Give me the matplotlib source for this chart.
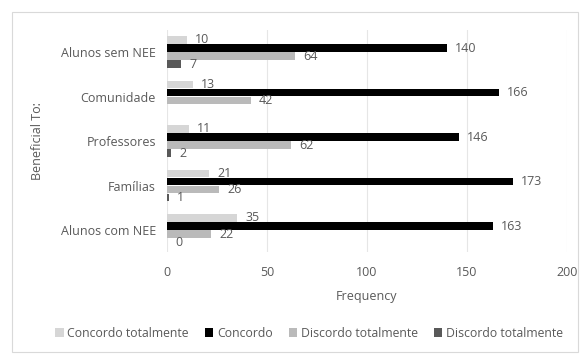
import numpy as np
import matplotlib
matplotlib.use("Agg")
import matplotlib.pyplot as plt
from matplotlib.patches import Rectangle

# dados (de baixo para cima)
categorias = ["Alunos com NEE", "Famílias", "Professores", "Comunidade", "Alunos sem NEE"]
series = ["Concordo totalmente", "Concordo", "Discordo totalmente", "Discordo totalmente"]
concordo_totalmente = [35, 21, 11, 13, 10]
concordo = [163, 173, 146, 166, 140]
discordo_totalmente = [22, 26, 62, 42, 64]
discordo_totalmente_2 = [0, 1, 2, np.nan, 7]
xticks = [0, 50, 100, 150, 200]

valores = [concordo_totalmente, concordo, discordo_totalmente, discordo_totalmente_2]
cores = ["#d6d6d6", "#000000", "#bababa", "#595959"]
texto = "#595959"

plt.rcParams['font.family'] = ['Open Sans', 'DejaVu Sans']

fig = plt.figure(figsize=(5.83, 3.56), dpi=100)
fig.patches.append(Rectangle((12 / 583, 4 / 356), 566 / 583, 340 / 356, transform=fig.transFigure,
                             fill=False, edgecolor="#d9d9d9", linewidth=0.8))
ax = fig.add_axes([0.2865, 0.2914, 0.686, 0.625])

y = np.arange(len(categorias))
passo = 0.18
altura = 0.165
for k, (vals, cor, nome) in enumerate(zip(valores, cores, series)):
    pos = y + (1.5 - k) * passo
    ax.barh(pos, vals, height=altura, color=cor, label=nome, zorder=3)
    for p, v in zip(pos, vals):
        if np.isnan(v):
            continue
        ax.text(v + 4, p, f"{int(v)}", va="center", ha="left", fontsize=9, color=texto, zorder=4)

ax.set_xlim(0, 200)
ax.set_ylim(-0.5, len(categorias) - 0.5)
ax.set_xticks(xticks)
ax.set_yticks(y)
ax.set_yticklabels(categorias)
ax.tick_params(axis="both", length=0, labelsize=9, colors=texto)
ax.tick_params(axis="x", pad=10)
ax.tick_params(axis="y", pad=8)
ax.grid(axis="x", color="#e6e6e6", linewidth=0.8, zorder=0)
for s in ax.spines.values():
    s.set_visible(False)
ax.set_xlabel("Frequency", fontsize=9, color=texto, labelpad=8)
ax.set_ylabel("Beneficial To:", fontsize=9, color=texto, labelpad=12)

fig.legend(loc="lower center", bbox_to_anchor=(0.53, 0.015), ncol=4, frameon=False,
           fontsize=8.8, labelcolor=texto, handlelength=0.7, handleheight=0.7,
           handletextpad=0.3, columnspacing=1.3)

fig.savefig("out.png", dpi=100)
